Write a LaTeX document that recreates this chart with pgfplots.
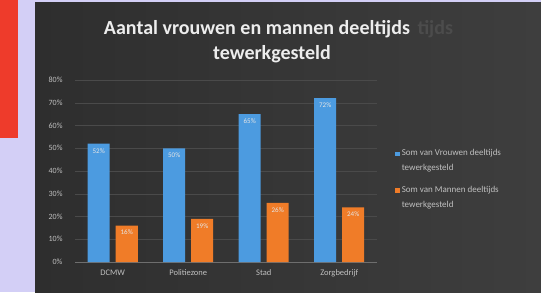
\documentclass[border=0pt]{standalone}
\usepackage{pgfplots}
\pgfplotsset{compat=1.18}
\usepackage{fontspec}
\setmainfont{Carlito}
\definecolor{lav}{HTML}{D3CFF6}
\definecolor{redc}{HTML}{EE3B2B}
\definecolor{bgl}{HTML}{2E2E2E}
\definecolor{bgr}{HTML}{3E3E3E}
\definecolor{barblue}{HTML}{4C9BE0}
\definecolor{barorange}{HTML}{F07C28}
\definecolor{gridc}{HTML}{4A4A4A}
\definecolor{basec}{HTML}{6E6E6E}
\definecolor{tickc}{HTML}{C0C0C0}
\definecolor{titlec}{HTML}{EDEDED}
\definecolor{ghost}{HTML}{4C4C4C}
\begin{document}
\begin{tikzpicture}[x=1pt,y=1pt]
\fill[lav] (0,0) rectangle (541,292);
\fill[redc] (0,154) rectangle (18,292);
\fill[bgl] (35,-2) rectangle (541,289);
\shade[left color=bgl, right color=bgr] (35,-2) rectangle (541,289);
\node[font=\bfseries\fontsize{20}{22}\selectfont, text=titlec] at (257,263) {Aantal vrouwen en mannen deeltijds};
\node[font=\bfseries\fontsize{20}{22}\selectfont, text=titlec] at (272,238) {tewerkgesteld};
\node[font=\bfseries\fontsize{20}{22}\selectfont, text=ghost, anchor=west] at (414,263) {tijds};
\begin{axis}[
  at={(75pt,30pt)}, anchor=south west,
  scale only axis, width=302pt, height=182pt,
  ymin=0, ymax=80, xmin=-0.5, xmax=3.5,
  ybar=6pt, bar width=22pt,
  xtick={0,1,2,3},
  xticklabels={DCMW,Politiezone,Stad,Zorgbedrijf},
  ytick={0,10,...,80},
  yticklabel={\pgfmathprintnumber{\tick}\%},
  /pgf/number format/assume math mode=true,
  axis x line*=bottom, axis y line*=left,
  x axis line style={basec, line width=0.8pt},
  y axis line style={draw=none},
  major tick length=0pt,
  ymajorgrids, grid style={gridc, line width=0.5pt},
  ticklabel style={text=tickc},
  xticklabel style={font=\fontsize{8.5}{10}\selectfont, yshift=-4pt},
  yticklabel style={font=\fontsize{8}{9}\selectfont, xshift=-9pt},
  nodes near coords={\pgfmathprintnumber{\pgfplotspointmeta}\%},
  every node near coord/.append style={font=\fontsize{7}{8}\selectfont, text=white!80!gray, anchor=north, yshift=-1pt},
  legend style={at={(1.05,0.64)}, anchor=north west, draw=none, fill=none,
    text=tickc, font=\fontsize{9}{15}\selectfont, row sep=10pt,
    cells={align=left}},
  legend cell align=left,
  legend image code/.code={\fill[#1] (-2pt,5pt) rectangle (2.5pt,9.5pt);},
]
\addplot[fill=barblue, draw=none] coordinates {(0,52) (1,50) (2,65) (3,72)};
\addlegendentry{Som van Vrouwen deeltijds\\tewerkgesteld}
\addplot[fill=barorange, draw=none] coordinates {(0,16) (1,19) (2,26) (3,24)};
\addlegendentry{Som van Mannen deeltijds\\tewerkgesteld}
\end{axis}
\pgfresetboundingbox
\useasboundingbox (0,0) rectangle (541,292);
\end{tikzpicture}
\end{document}
